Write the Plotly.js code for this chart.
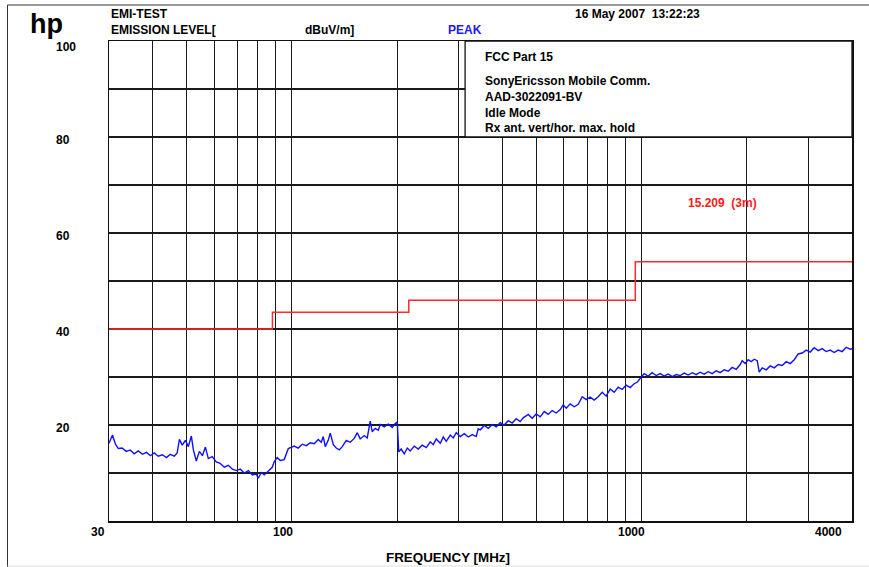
<!DOCTYPE html>
<html>
<head>
<meta charset="utf-8">
<script src="https://cdn.plot.ly/plotly-3.0.1.min.js"></script>
<style>html,body{margin:0;padding:0;background:#fff;}#chart{width:869px;height:567px;}</style>
</head>
<body>
<div id="chart"></div>
<script>
// ---- measured emission (PEAK, max hold) ----
const freqA = [30, 30.7, 31.3, 31.9, 32.7, 33.6, 34.5, 35.4, 36.4, 37.4, 38.4, 39.4, 40.4, 41.5, 42.6, 43.8, 44.9, 46.1, 47.0, 47.7, 48.6, 49.6, 50.6, 51.6, 52.3, 53.3, 54.4, 55.5, 56.6, 57.7, 59.2, 60.8, 62.4, 64.1, 65.8, 67.6, 69.4, 71.2, 73.1, 75.1, 77.1, 79.1, 80.2, 81.8, 83.4, 85.6, 87.9, 89.1, 90.8, 92.7, 95.1, 97.7];
const levelA = [16.2, 17.9, 16.0, 15.1, 15.2, 14.5, 14.8, 14.0, 14.6, 13.9, 14.3, 13.6, 14.2, 13.5, 13.8, 13.2, 13.9, 13.5, 14.2, 17.0, 15.8, 16.8, 15.5, 17.7, 14.8, 12.5, 14.5, 13.6, 15.4, 13.0, 13.4, 12.3, 12.0, 11.2, 11.6, 10.8, 10.5, 10.8, 10.0, 10.5, 9.6, 9.8, 8.9, 10.1, 9.6, 10.3, 11.2, 12.4, 13.2, 12.6, 12.8, 15.1];
const freqB = [99.0, 101.6, 104.3, 107.1, 110.0, 112.9, 115.9, 119.0, 121.4, 123.0, 124.6, 127.1, 128.8, 131.4, 134.0, 136.7, 139.4, 143.1, 146.9, 150.8, 153.9, 156.9, 161.1, 164.3, 167.6, 169.8, 173.2, 176.7, 179.0, 183.8, 188.7, 193.7, 197.6, 200.2, 202.2, 205.5, 209.7, 213.9, 218.1, 224.0, 229.9, 236.0, 242.4, 248.8, 253.8, 258.9, 265.8, 271.1, 276.5, 283.9, 289.6, 295.3, 303.2, 311.3, 319.6, 328.1, 336.8, 341.3];
const levelB = [15.3, 15.6, 15.2, 16.0, 15.7, 16.3, 16.1, 17.0, 16.4, 17.6, 15.5, 16.8, 18.3, 15.9, 15.2, 14.8, 15.5, 16.8, 16.4, 17.2, 18.4, 17.1, 17.8, 17.3, 20.8, 18.6, 19.3, 18.9, 20.1, 19.6, 20.2, 19.5, 20.3, 20.6, 14.4, 15.0, 14.0, 15.2, 14.6, 15.6, 15.0, 15.8, 15.3, 16.5, 15.9, 17.1, 16.2, 17.5, 16.6, 17.9, 17.3, 18.4, 17.6, 18.2, 17.5, 18.0, 17.6, 19.2];
const freqC = [345.9, 355.1, 364.6, 374.3, 384.2, 394.5, 405.0, 415.8, 426.8, 438.3, 449.9, 458.9, 474.4, 487.0, 500.0, 513.3, 527.0, 541.1, 555.5, 570.3, 585.6, 597.3, 609.3, 625.4, 642.1, 659.4, 676.9, 695.0, 713.5, 732.5, 752.1, 772.1, 792.6, 813.8, 835.5, 857.8, 880.6, 904.0, 928.2, 952.9, 972.0, 991.4, 1017.8, 1045.0, 1072.8, 1101.8, 1131.4];
const levelC = [19.0, 19.9, 19.3, 20.1, 19.6, 20.5, 20.0, 20.9, 20.4, 21.3, 20.7, 21.5, 22.2, 21.4, 22.3, 21.7, 22.8, 22.2, 23.0, 22.5, 23.2, 24.2, 23.5, 24.4, 23.8, 24.3, 25.9, 25.3, 25.8, 25.2, 25.9, 26.8, 26.0, 27.5, 26.8, 27.9, 27.4, 28.3, 27.8, 28.6, 28.9, 29.6, 30.7, 30.2, 30.9, 30.3, 30.7];
const freqD = [1161.4, 1192.2, 1224.2, 1256.8, 1290.4, 1324.7, 1359.9, 1396.8, 1433.9, 1472.0, 1511.5, 1551.7, 1593.2, 1635.6, 1679.3, 1724.3, 1770.2, 1817.6, 1866.0, 1915.7, 1941.0, 1979.8, 2019.4, 2059.8, 2101.0, 2143.0, 2171.3, 2214.2, 2273.5, 2334.1, 2396.6, 2460.5, 2525.9, 2593.7, 2662.8, 2734.1, 2806.9, 2881.5, 2958.8, 3037.6, 3118.3, 3201.8, 3287.1, 3375.1, 3464.8, 3557.3, 3652.4, 3749.6, 3849.5, 3952.5, 4000];
const levelD = [30.2, 30.6, 30.1, 30.5, 30.3, 30.8, 30.4, 30.9, 30.5, 31.0, 30.6, 31.1, 30.7, 31.3, 30.9, 31.5, 31.2, 32.0, 31.6, 32.6, 33.4, 32.8, 33.6, 33.2, 33.7, 33.4, 31.0, 31.9, 31.5, 32.3, 31.9, 32.6, 32.4, 33.2, 32.8, 33.6, 34.8, 35.0, 35.6, 35.2, 36.1, 35.5, 35.9, 35.3, 35.6, 35.1, 35.6, 35.3, 36.2, 35.8, 35.9];

// ---- FCC 15.209 (3m) limit ----
const limitFreq = [30, 88, 216, 960, 4000];
const limitLevel = [40, 43.5, 46, 54, 54];

// ---- axes ----
const gridFreqs = [30, 40, 50, 60, 70, 80, 90, 100, 200, 300, 400, 500, 600, 700, 800, 900, 1000, 2000, 3000, 4000];
const xLabelVals = [30, 100, 1000, 4000];
const xLabelShift = [-11, -9, -10, -24];
const yLabelVals = [20, 40, 60, 80, 100];

const infoLines = ["FCC Part 15", "SonyEricsson Mobile Comm.", "AAD-3022091-BV", "Idle Mode", "Rx ant. vert/hor. max. hold"];
const infoLineY = [57, 81, 97, 113, 128];

const FONT = "Liberation Sans, Arial, Helvetica, sans-serif";
const L = 109, T = 41, W = 743, H = 480;
const px = (x) => (x - L) / W;
const py = (y) => (T + H - y) / H;

const freq = freqA.concat(freqB, freqC, freqD);
const level = levelA.concat(levelB, levelC, levelD);

const traces = [
  {x: limitFreq, y: limitLevel, type: 'scatter', mode: 'lines', line: {color: '#ff2a2a', width: 1.5, shape: 'hv'}, hoverinfo: 'skip'},
  {x: freq, y: level, type: 'scatter', mode: 'lines', line: {color: '#1010ff', width: 1.4}, hoverinfo: 'skip'}
];

const ann = [];
const txt = (text, x, y, xa, opts) => Object.assign({
  text: text, xref: 'paper', yref: 'paper', x: px(x), y: py(y), xanchor: xa, yanchor: 'middle',
  showarrow: false, font: {family: FONT, size: 12, color: '#000', weight: 'bold'}
}, opts || {});

ann.push(txt('hp', 29, 24, 'left', {font: {family: FONT, size: 27, color: '#000', weight: 'bold'}, borderpad: 0}));
ann.push(txt('EMI-TEST', 109, 14, 'left'));
ann.push(txt('EMISSION LEVEL[', 109, 30, 'left'));
ann.push(txt('dBuV/m]', 303, 30, 'left'));
ann.push(txt('PEAK', 446, 30, 'left', {font: {family: FONT, size: 12, color: '#1a1aff', weight: 'bold'}}));
ann.push(txt('16 May 2007  13:22:23', 573, 14, 'left'));
infoLines.forEach((s, i) => ann.push(txt(s, 483, infoLineY[i], 'left')));
ann.push(txt('15.209  (3m)', 686, 203, 'left', {font: {family: FONT, size: 12, color: '#ff1a1a', weight: 'bold'}}));
ann.push(txt('FREQUENCY [MHz]', 448, 557, 'center', {font: {family: FONT, size: 13.4, color: '#000', weight: 'bold'}}));

xLabelVals.forEach((v, i) => ann.push({
  text: String(v), xref: 'x', yref: 'paper', x: Math.log10(v), y: 0, xanchor: 'center', yanchor: 'middle',
  xshift: xLabelShift[i], yshift: -11, showarrow: false,
  font: {family: FONT, size: 12, color: '#000', weight: 'bold'}
}));
yLabelVals.forEach((v) => ann.push({
  text: String(v), xref: 'paper', yref: 'y', x: 0, y: v, xanchor: 'left', yanchor: 'middle',
  xshift: -54, yshift: v === 100 ? -6 : -3, showarrow: false, borderpad: 0,
  font: {family: FONT, size: 12, color: '#000', weight: 'bold'}
}));

const shapes = [
  {type: 'rect', xref: 'x', yref: 'y', x0: 313, x1: 4000, y0: 80, y1: 100,
   fillcolor: '#fff', line: {color: '#111', width: 1.3}, layer: 'above'},
  {type: 'line', xref: 'paper', yref: 'paper', x0: px(7.5), x1: px(869), y0: py(5), y1: py(5), line: {color: '#333', width: 1}},
  {type: 'line', xref: 'paper', yref: 'paper', x0: px(7.5), x1: px(7.5), y0: py(5), y1: py(567), line: {color: '#333', width: 1}},
  {type: 'line', xref: 'paper', yref: 'paper', x0: px(7.5), x1: px(869), y0: py(566), y1: py(566), line: {color: '#ddd', width: 1}}
];

const layout = {
  width: 869, height: 567,
  margin: {l: L, r: 869 - L - W, t: T, b: 567 - T - H, pad: 0},
  paper_bgcolor: '#fff', plot_bgcolor: '#fff',
  showlegend: false,
  xaxis: {type: 'log', range: [Math.log10(30), Math.log10(4000)], tickvals: gridFreqs, showticklabels: false,
          ticks: '', showgrid: true, gridcolor: '#1a1a1a', gridwidth: 1.1, zeroline: false,
          showline: true, mirror: true, linecolor: '#111', linewidth: 1.5, fixedrange: true},
  yaxis: {range: [0, 100], dtick: 10, tick0: 0, showticklabels: false, ticks: '', showgrid: true,
          gridcolor: '#1a1a1a', gridwidth: 1.1, zeroline: false,
          showline: true, mirror: true, linecolor: '#111', linewidth: 1.5, fixedrange: true},
  annotations: ann,
  shapes: shapes
};

Plotly.newPlot('chart', traces, layout, {staticPlot: true, displayModeBar: false});
</script>
</body>
</html>
